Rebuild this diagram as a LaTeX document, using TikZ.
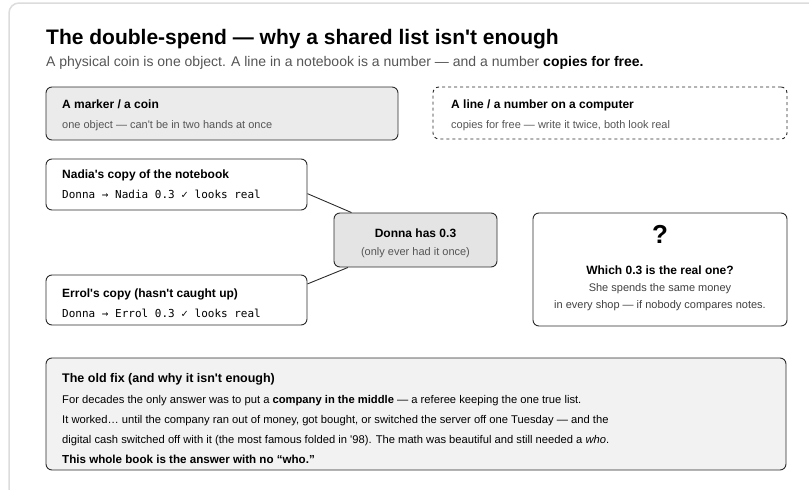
\documentclass[tikz,border=0pt]{standalone}
\usepackage{fontspec}
\setmainfont{Liberation Sans}
\setmonofont{DejaVu Sans Mono}
\usetikzlibrary{positioning}

\definecolor{frame grey}{HTML}{DCDCDC}
\definecolor{ink}{HTML}{2B2B2B}
\definecolor{soft text}{HTML}{555555}
\definecolor{coin fill}{HTML}{EBEBEB}
\definecolor{donna fill}{HTML}{E4E4E4}
\definecolor{fix fill}{HTML}{F2F2F2}

\newcommand{\apos}{\textquotesingle}

\begin{document}
\begin{tikzpicture}
    [
        x=1pt, y=-1pt,
        panel/.style={draw=ink, line width=0.9pt, rounded corners=6pt, inner sep=0pt},
        label text/.style={inner sep=0pt, anchor=base west},
        head/.style={label text, font=\bfseries\fontsize{12}{14}\selectfont},
        small/.style={label text, text=soft text, font=\fontsize{11}{13}\selectfont},
        mono/.style={label text, font=\ttfamily\fontsize{11}{13}\selectfont},
        body/.style={label text, font=\fontsize{11.2}{14}\selectfont}
    ]

    \useasboundingbox (0,0) rectangle (809,490);
    \draw [frame grey, line width=1.5pt, rounded corners=10pt] (9,490) -- (9,3) -- (809,3);

    % heading
    \node [label text, font=\bfseries\fontsize{21}{25}\selectfont] (title) at (46,44)
        {The double-spend — why a shared list isn\apos t enough};
    \node [label text, text=soft text, font=\fontsize{14}{16}\selectfont] (subtitle) at (46,66)
        {A physical coin is one object. A line in a notebook is a number — and a number \textcolor{black}{\bfseries copies for free.}};

    % the two kinds of thing
    \node [panel, fill=coin fill, minimum width=352pt, minimum height=53pt] (coin box) at (222,113.5) {};
    \node [head] (coin head) at (62,108) {A marker / a coin};
    \node [small] (coin note) at (62,128) {one object — can\apos t be in two hands at once};

    \node [panel, dashed, fill=white, minimum width=354pt, minimum height=52pt] (line box) at (610,113) {};
    \node [head] (line head) at (451,108) {A line / a number on a computer};
    \node [small] (line note) at (451,128) {copies for free — write it twice, both look real};

    % the two copies
    \node [panel, fill=white, minimum width=261pt, minimum height=51pt] (nadia) at (176.5,184.5) {};
    \node [head] (nadia head) at (62,178.5) {Nadia\apos s copy of the notebook};
    \node [mono] (nadia line) at (62,198) {Donna → Nadia 0.3 ✓ looks real};

    \node [panel, fill=white, minimum width=261pt, minimum height=50pt] (errol) at (176.5,300) {};
    \node [head] (errol head) at (62,297.5) {Errol\apos s copy (hasn\apos t caught up)};
    \node [mono] (errol line) at (62,317) {Donna → Errol 0.3 ✓ looks real};

    \node [panel, fill=donna fill, minimum width=163pt, minimum height=54pt] (donna) at (415.5,240) {};
    \node [head, anchor=base] (donna head) at (415.5,237) {Donna has 0.3};
    \node [small, anchor=base] (donna note) at (415.5,255.5) {(only ever had it once)};

    \draw [ink, line width=0.9pt] (nadia.-4.6) -- (donna);
    \draw [ink, line width=0.9pt] (errol.7.4) -- (donna);

    % the question
    \node [panel, fill=white, minimum width=254pt, minimum height=113pt] (question) at (660,269.5) {};
    \node [label text, anchor=base, font=\bfseries\fontsize{26}{30}\selectfont] (mark) at (660,243) {?};
    \node [head, anchor=base] (question head) at (660,274) {Which 0.3 is the real one?};
    \node [small, anchor=base, text=ink!90] (question one) at (660,291) {She spends the same money};
    \node [small, anchor=base, text=ink!90] (question two) at (660,308.5) {in every shop — if nobody compares notes.};

    % the old fix
    \node [panel, fill=fix fill, minimum width=740pt, minimum height=112pt] (fix) at (416,414) {};
    \node [head, font=\bfseries\fontsize{12.5}{14}\selectfont] (fix head) at (62,382) {The old fix (and why it isn\apos t enough)};
    \node [body] (fix one) at (62,403)
        {For decades the only answer was to put a \textbf{company in the middle} — a referee keeping the one true list.};
    \node [body] (fix two) at (62,423)
        {It worked… until the company ran out of money, got bought, or switched the server off one Tuesday — and the};
    \node [body] (fix three) at (62,443)
        {digital cash switched off with it (the most famous folded in \apos 98). The math was beautiful and still needed a \textit{who}.};
    \node [body, font=\bfseries\fontsize{11.6}{14}\selectfont] (fix four) at (62,463)
        {This whole book is the answer with no “who.”};
\end{tikzpicture}
\end{document}
